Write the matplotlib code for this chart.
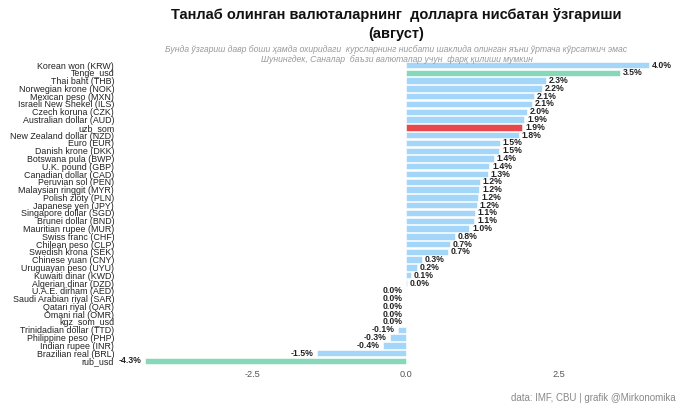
import matplotlib
matplotlib.use("Agg")
import matplotlib.pyplot as plt

plt.rcParams['font.family'] = ['Liberation Sans', 'DejaVu Sans']

categories = [
    "Korean won (KRW)", "Tenge_usd", "Thai baht (THB)", "Norwegian krone (NOK)",
    "Mexican peso (MXN)", "Israeli New Shekel (ILS)", "Czech koruna (CZK)",
    "Australian dollar (AUD)", "uzb_som", "New Zealand dollar (NZD)", "Euro (EUR)",
    "Danish krone (DKK)", "Botswana pula (BWP)", "U.K. pound (GBP)",
    "Canadian dollar (CAD)", "Peruvian sol (PEN)", "Malaysian ringgit (MYR)",
    "Polish zloty (PLN)", "Japanese yen (JPY)", "Singapore dollar (SGD)",
    "Brunei dollar (BND)", "Mauritian rupee (MUR)", "Swiss franc (CHF)",
    "Chilean peso (CLP)", "Swedish krona (SEK)", "Chinese yuan (CNY)",
    "Uruguayan peso (UYU)", "Kuwaiti dinar (KWD)", "Algerian dinar (DZD)",
    "U.A.E. dirham (AED)", "Saudi Arabian riyal (SAR)", "Qatari riyal (QAR)",
    "Omani rial (OMR)", "kgz_som_usd", "Trinidadian dollar (TTD)",
    "Philippine peso (PHP)", "Indian rupee (INR)", "Brazilian real (BRL)", "rub_usd",
]
values = [
    3.97, 3.50, 2.29, 2.22, 2.09, 2.06, 1.98, 1.94, 1.90, 1.85, 1.54,
    1.53, 1.44, 1.37, 1.34, 1.21, 1.20, 1.19, 1.16, 1.13,
    1.12, 1.04, 0.80, 0.72, 0.69, 0.26, 0.18, 0.08, 0.02,
    0.0, 0.0, 0.0, 0.0, 0.0, -0.13, -0.26, -0.37, -1.45, -4.26,
]
labels = [
    "4.0%", "3.5%", "2.3%", "2.2%", "2.1%", "2.1%", "2.0%", "1.9%", "1.9%", "1.8%",
    "1.5%", "1.5%", "1.4%", "1.4%", "1.3%", "1.2%", "1.2%", "1.2%", "1.2%", "1.1%",
    "1.1%", "1.0%", "0.8%", "0.7%", "0.7%", "0.3%", "0.2%", "0.1%", "0.0%",
    "0.0%", "0.0%", "0.0%", "0.0%", "0.0%", "-0.1%", "-0.3%", "-0.4%", "-1.5%", "-4.3%",
]
highlight_green = ["Tenge_usd", "rub_usd"]
highlight_red = ["uzb_som"]
xticks = [-2.5, 0.0, 2.5]
xticklabels = ["-2.5", "0.0", "2.5"]

blue = "#a3d6f9"
green = "#86d8b8"
red = "#e8474b"

fig = plt.figure(figsize=(6.8, 4.08), dpi=100)
ax = fig.add_axes([0.172, 0.104, 0.822, 0.748])

n = len(categories)
ypos = list(range(n))
colors = []
for c in categories:
    if c in highlight_green:
        colors.append(green)
    elif c in highlight_red:
        colors.append(red)
    else:
        colors.append(blue)

ax.barh(ypos, values, height=0.82, color=colors, edgecolor="white", linewidth=0.4)

for y, v, lab in zip(ypos, values, labels):
    if v > 0:
        ax.text(v + 0.05, y, lab, ha="left", va="center", fontsize=6.2,
                fontweight="bold", color="#222222")
    else:
        ax.text(v - 0.05, y, lab, ha="right", va="center", fontsize=6.2,
                fontweight="bold", color="#222222")

ax.set_yticks(ypos)
ax.set_yticklabels(categories, fontsize=6.4, color="#222222")
ax.set_ylim(n - 1 + 0.6, -0.6)
ax.set_xlim(-4.715, 4.415)
ax.set_xticks(xticks)
ax.set_xticklabels(xticklabels, fontsize=6.6, color="#555555")
ax.tick_params(axis="both", length=0, pad=2)
ax.tick_params(axis="x", pad=3)
for s in ax.spines.values():
    s.set_visible(False)

cx = 0.172 + 0.822 / 2
fig.text(cx, 0.98, "Танлаб олинган валюталарнинг  долларга нисбатан ўзгариши\n(август)",
         ha="center", va="top", fontsize=10.5, fontweight="bold", linespacing=1.45,
         color="#111111")
fig.text(cx, 0.866,
         "Бунда ўзгариш давр боши ҳамда охиридаги  курсларнинг нисбати шаклида олинган яъни ўртача кўрсаткич эмас\n"
         "Шунингдек, Саналар  баъзи валюталар учун  фарқ қилиши мумкин",
         ha="center", va="center", fontsize=6.2, style="italic", color="#999999",
         linespacing=1.15)
fig.text(0.993, 0.012, "data: IMF, CBU | grafik @Mirkonomika", ha="right", va="bottom",
         fontsize=7, color="#888888")

fig.savefig("out.png", dpi=100)
